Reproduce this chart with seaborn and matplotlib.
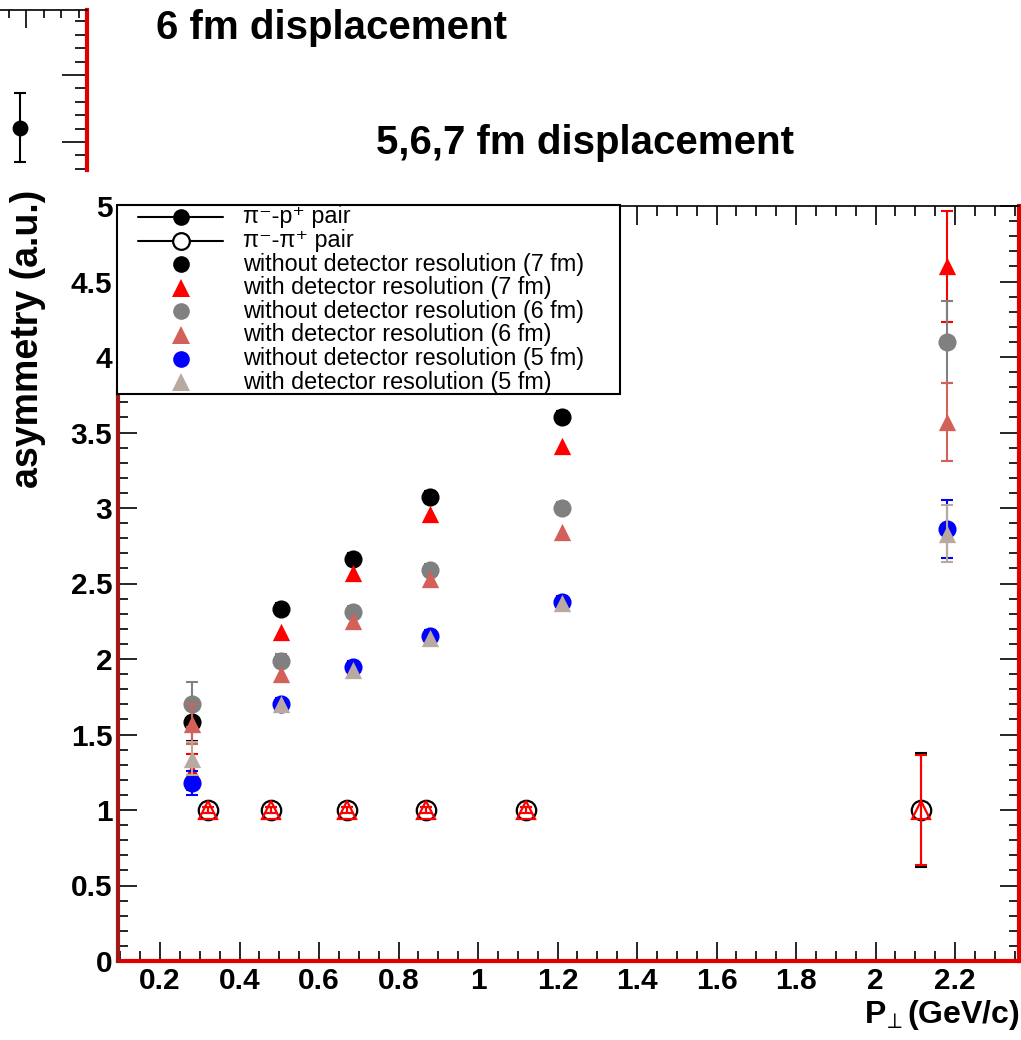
import numpy as np
import pandas as pd
import matplotlib
matplotlib.use("Agg")
import matplotlib.pyplot as plt
from matplotlib.lines import Line2D
from matplotlib.patches import Rectangle
from matplotlib.ticker import MultipleLocator
import seaborn as sns

# ---------------- data ----------------
x_pt = [0.28, 0.505, 0.685, 0.88, 1.21, 2.18]
nores_7fm = [1.58, 2.33, 2.66, 3.07, 3.60, np.nan]
nores_7fm_err = [0.12, 0.04, 0.04, 0.04, 0.04, np.nan]
res_7fm = [1.25, 2.18, 2.57, 2.96, 3.41, 4.60]
res_7fm_err = [0.12, 0.0, 0.0, 0.0, 0.0, 0.37]
nores_6fm = [1.70, 1.99, 2.31, 2.59, 3.00, 4.10]
nores_6fm_err = [0.15, 0.04, 0.04, 0.04, 0.04, 0.27]
res_6fm = [1.57, 1.90, 2.25, 2.53, 2.84, 3.57]
res_6fm_err = [0.13, 0.0, 0.0, 0.0, 0.0, 0.26]
nores_5fm = [1.18, 1.70, 1.95, 2.15, 2.38, 2.86]
nores_5fm_err = [0.08, 0.04, 0.04, 0.04, 0.04, 0.19]
res_5fm = [1.34, 1.70, 1.93, 2.14, 2.37, 2.83]
res_5fm_err = [0.11, 0.0, 0.0, 0.0, 0.0, 0.19]

x_pipi = [0.32, 0.48, 0.67, 0.87, 1.12, 2.115]
pipi_nores = [1.0, 1.0, 1.0, 1.0, 1.0, 1.0]
pipi_nores_err = [0.02, 0.02, 0.02, 0.02, 0.02, 0.38]
pipi_res = [1.0, 1.0, 1.0, 1.0, 1.0, 1.0]
pipi_res_err = [0.02, 0.02, 0.02, 0.02, 0.02, 0.365]

# fragment of the neighbouring (6 fm) canvas, top-left
frag_x = [2.914]
frag_y = [1.21]
frag_err = [0.515]

x_ticks = [0.2, 0.4, 0.6, 0.8, 1.0, 1.2, 1.4, 1.6, 1.8, 2.0, 2.2]
x_ticklabels = ["0.2", "0.4", "0.6", "0.8", "1", "1.2", "1.4", "1.6", "1.8", "2", "2.2"]
y_ticks = [0, 0.5, 1, 1.5, 2, 2.5, 3, 3.5, 4, 4.5, 5]
y_ticklabels = ["0", "0.5", "1", "1.5", "2", "2.5", "3", "3.5", "4", "4.5", "5"]

legend_labels = [
    "\u03c0\u207b-p\u207a pair",
    "\u03c0\u207b-\u03c0\u207a pair",
    "without detector resolution (7 fm)",
    "with detector resolution (7 fm)",
    "without detector resolution (6 fm)",
    "with detector resolution (6 fm)",
    "without detector resolution (5 fm)",
    "with detector resolution (5 fm)",
]

title_6 = "6 fm displacement"
title_567 = "5,6,7 fm displacement"
x_label = r"P$_{\!\perp}$(GeV/c)"
y_label = "asymmetry (a.u.)"

# ---------------- style ----------------
sns.set_theme(style="ticks")
plt.rcParams["font.family"] = ["Liberation Sans", "DejaVu Sans"]
plt.rcParams["axes.linewidth"] = 1.2
for key in ["text.color", "axes.labelcolor", "xtick.color", "ytick.color", "axes.edgecolor"]:
    plt.rcParams[key] = "black"

C_BLACK = "#000000"
C_RED = "#ff0000"
C_GRAY = "#808080"
C_SALMON = "#d4605a"
C_BLUE = "#0000ff"
C_BEIGE = "#b8a9a1"

W, H = 1021, 1040
fig = plt.figure(figsize=(W / 100, H / 100), dpi=100)
fig.patch.set_facecolor("white")

ax = fig.add_axes([118 / W, 79 / H, 901 / W, 755 / H])
ax.set_facecolor("white")

# open markers (pi- pi+ pair)
open_series = [
    (x_pipi, pipi_nores, pipi_nores_err, C_BLACK, "o", 14.0),
    (x_pipi, pipi_res, pipi_res_err, C_RED, "^", 13.0),
]
z = 3
for xs, ys, es, col, mk, ms in open_series:
    ax.errorbar(xs, ys, yerr=es, fmt="none", ecolor=col, elinewidth=1.5,
                capsize=4.5, capthick=1.5, zorder=z)
    ax.errorbar(xs, ys, fmt=mk, mfc="none", mec=col, mew=1.6, ms=ms,
                linestyle="none", zorder=z + 1)
    z += 2

# filled markers (pi- p+ pair)
filled_series = [
    (nores_7fm, nores_7fm_err, C_BLACK, "o", 170),
    (res_7fm, res_7fm_err, C_RED, "^", 155),
    (nores_6fm, nores_6fm_err, C_GRAY, "o", 170),
    (res_6fm, res_6fm_err, C_SALMON, "^", 155),
    (nores_5fm, nores_5fm_err, C_BLUE, "o", 170),
    (res_5fm, res_5fm_err, C_BEIGE, "^", 155),
]
for ys, es, col, mk, s in filled_series:
    df = pd.DataFrame({"x": x_pt, "y": ys, "e": es}).dropna()
    de = df[df["e"] > 0]
    ax.errorbar(de["x"], de["y"], yerr=de["e"], fmt="none", ecolor=col, elinewidth=1.5,
                capsize=4.0, capthick=1.5, zorder=z)
    sns.scatterplot(data=df, x="x", y="y", color=col, marker=mk, s=s,
                    linewidth=0, ax=ax, zorder=z + 1, legend=False)
    z += 2

ax.set_xlim(0.094, 2.361)
ax.set_ylim(0, 5)
ax.set_xticks(x_ticks, x_ticklabels)
ax.set_yticks(y_ticks, y_ticklabels)
ax.set_xlabel("")
ax.set_ylabel("")
ax.xaxis.set_minor_locator(MultipleLocator(0.05))
ax.yaxis.set_minor_locator(MultipleLocator(0.1))
ax.tick_params(axis="both", which="both", direction="in", top=True, right=True,
               color="black", labelcolor="black", width=1.2)
ax.tick_params(axis="both", which="major", length=14, labelsize=21.5)
ax.tick_params(axis="both", which="minor", length=7)
ax.tick_params(axis="x", which="major", pad=4)
ax.tick_params(axis="y", which="major", pad=4)
for lbl in ax.get_xticklabels() + ax.get_yticklabels():
    lbl.set_fontweight("bold")

for sp in ax.spines.values():
    sp.set_color("black")
    sp.set_linewidth(1.2)
ax.spines["bottom"].set_color("#e00000")
ax.spines["bottom"].set_linewidth(3)
ax.spines["right"].set_color("#e00000")
ax.spines["right"].set_linewidth(3)
ax.axvline(0.094, ymin=0, ymax=3.78 / 5, color="#a01818", lw=3, clip_on=False, zorder=20)

ax.set_xlabel(x_label, fontsize=23, fontweight="bold", loc="right", color="black")
ax.xaxis.set_label_coords(1.001, -0.049)
ax.set_ylabel(y_label, fontsize=27, fontweight="bold", loc="top", color="black")
ax.yaxis.set_label_coords(-0.080, 1.021)

# ---------------- legend (drawn as in the ROOT pave) ----------------
fig.add_artist(Rectangle((117 / W, 1 - 394 / H), 503 / W, 189 / H,
                         transform=fig.transFigure, facecolor="white",
                         edgecolor="black", lw=1.5, zorder=5))
row0, pitch = 217, 23.6
leg_handles = [
    ("o", C_BLACK, True, True),
    ("o", C_BLACK, False, True),
    ("o", C_BLACK, True, False),
    ("^", C_RED, True, False),
    ("o", C_GRAY, True, False),
    ("^", C_SALMON, True, False),
    ("o", C_BLUE, True, False),
    ("^", C_BEIGE, True, False),
]
for i, (lab, (mk, col, filled, line)) in enumerate(zip(legend_labels, leg_handles)):
    yy = 1 - (row0 + i * pitch) / H
    if line:
        fig.add_artist(Line2D([138 / W, 223 / W], [yy, yy], transform=fig.transFigure,
                              color="black", lw=1.5, zorder=6))
    fig.add_artist(Line2D([181 / W], [yy], transform=fig.transFigure, marker=mk,
                          ms=12 if mk == "o" else 12.5,
                          mfc=col if filled else "white", mec=col,
                          mew=1.6 if not filled else 0, linestyle="none", zorder=7))
    fig.text(243 / W, yy, lab, fontsize=16.8, va="center", ha="left", zorder=8,
             color="black")

# ---------------- titles ----------------
fig.text(332 / W, 1 - 28 / H, title_6, fontsize=29, fontweight="bold",
         ha="center", va="center", color="black")
fig.text(585 / W, 1 - 143 / H, title_567, fontsize=29, fontweight="bold",
         ha="center", va="center", color="black")

# ---------------- fragment of neighbouring canvas ----------------
fax = fig.add_axes([-184 / W, 1 - 170 / H, 271 / W, 160 / H])
fax.set_facecolor("none")
fax.set_xlim(0, 271 / 70)
fax.set_ylim(0.582, 2.97)
eb = fax.errorbar(frag_x, frag_y, yerr=frag_err, fmt="none", ecolor="black",
                  elinewidth=1.5, capsize=4.5, capthick=1.5, clip_on=False)
caps = eb.lines[1]
if len(caps) > 0:
    caps[0].set_color("red")
sns.scatterplot(x=frag_x, y=frag_y, color="black", s=130, linewidth=0, ax=fax,
                legend=False, zorder=5)
fax.xaxis.set_major_locator(MultipleLocator(1))
fax.xaxis.set_minor_locator(MultipleLocator(0.25))
fax.yaxis.set_major_locator(MultipleLocator(1))
fax.yaxis.set_minor_locator(MultipleLocator(0.2))
fax.tick_params(axis="both", which="both", direction="in", top=True, right=True,
                bottom=False, left=False, labelbottom=False, labelleft=False,
                labeltop=False, labelright=False, width=1.2, color="black")
fax.tick_params(axis="x", which="major", length=13)
fax.tick_params(axis="x", which="minor", length=6)
fax.tick_params(axis="y", which="major", length=18)
fax.tick_params(axis="y", which="minor", length=9)
fax.spines["left"].set_visible(False)
fax.spines["bottom"].set_visible(False)
fax.spines["top"].set_color("black")
fax.spines["right"].set_color("#e00000")
fax.spines["right"].set_linewidth(3)

fig.savefig("out.png", dpi=100)
